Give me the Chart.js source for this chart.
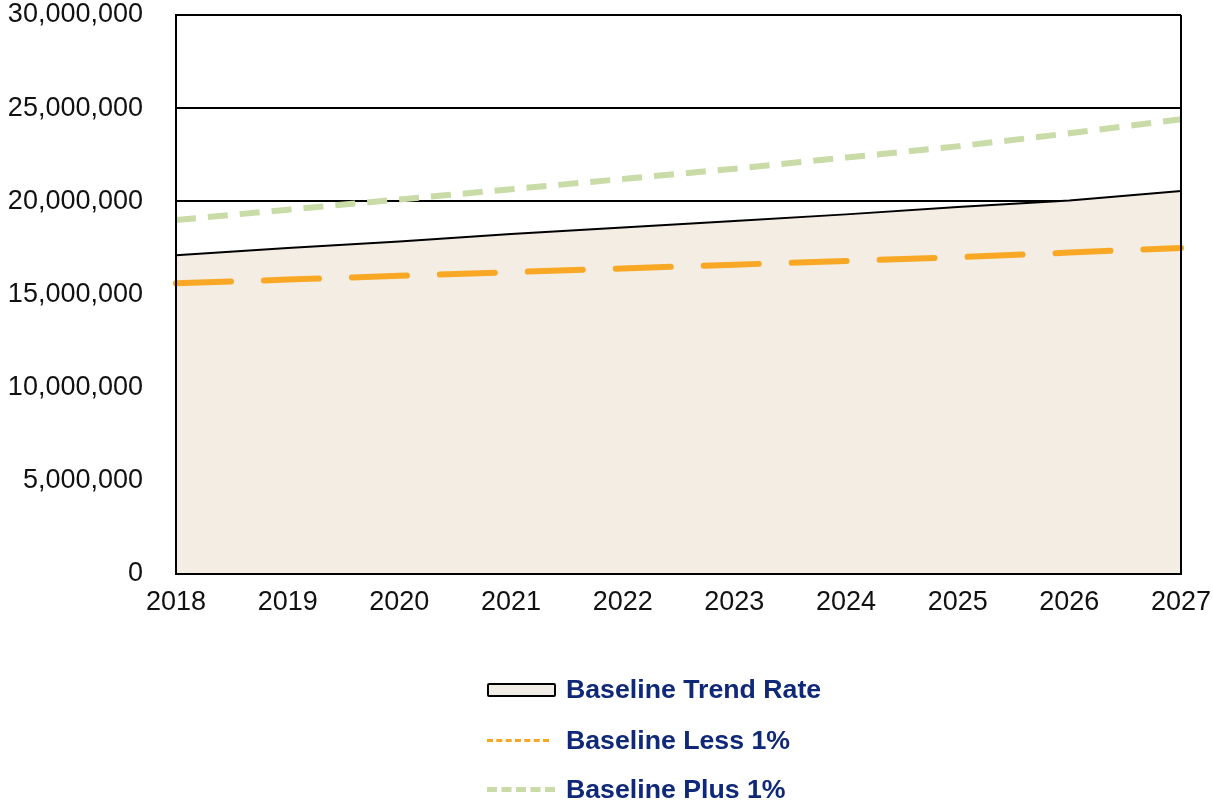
<!DOCTYPE html>
<html>
<head>
<meta charset="utf-8">
<script src="https://cdn.jsdelivr.net/npm/chart.js@4/dist/chart.umd.min.js"></script>
<style>
  html, body { margin: 0; padding: 0; background: #ffffff; }
  #wrap { position: relative; width: 1213px; height: 801px; }
  #c { position: absolute; left: 0; top: 0; }
  .leg { position: absolute; left: 487px; font-family: "Liberation Sans", Arial, sans-serif;
         font-weight: bold; font-size: 26.7px; color: #0f2877; }
  .row { position: absolute; left: 0; height: 30px; white-space: nowrap; }
  .row span.t { position: absolute; left: 79px; top: 0; line-height: 30px; }
  .mk { position: absolute; left: 0; }
</style>
</head>
<body>
<div id="wrap">
  <canvas id="c" width="1213" height="801"></canvas>
  <div class="leg" id="legend"></div>
</div>
<script>
// ---- data ----
const years = ['2018','2019','2020','2021','2022','2023','2024','2025','2026','2027'];
const trendRate = [17100000, 17500000, 17850000, 18250000, 18600000, 18950000, 19300000, 19700000, 20050000, 20550000];
const lessOne   = [15600000, 15800000, 16000000, 16200000, 16400000, 16600000, 16800000, 17000000, 17250000, 17500000];
const plusOne   = [19000000, 19550000, 20100000, 20650000, 21200000, 21750000, 22350000, 22950000, 23650000, 24400000];
const seriesNames = ['Baseline Trend Rate', 'Baseline Less 1%', 'Baseline Plus 1%'];

const FONT = "'Liberation Sans', Arial, sans-serif";

const framePlugin = {
  id: 'frame',
  afterDatasetsDraw(chart) {
    const {ctx, chartArea: a} = chart;
    ctx.save();
    ctx.strokeStyle = '#000';
    ctx.lineWidth = 2;
    ctx.beginPath();
    ctx.moveTo(a.left, a.top); ctx.lineTo(a.left, a.bottom);
    ctx.lineTo(a.right, a.bottom); ctx.lineTo(a.right, a.top);
    ctx.stroke();
    ctx.restore();
  }
};

new Chart(document.getElementById('c'), {
  type: 'line',
  data: {
    labels: years,
    datasets: [
      { label: seriesNames[1], data: lessOne, borderColor: '#f9a825', borderWidth: 6,
        borderDash: [55, 33], borderCapStyle: 'round', pointRadius: 0, fill: false, order: 1 },
      { label: seriesNames[2], data: plusOne, borderColor: '#c9dba6', borderWidth: 6,
        borderDash: [20, 12], borderCapStyle: 'butt', pointRadius: 0, fill: false, order: 0 },
      { label: seriesNames[0], data: trendRate, borderColor: '#000000', borderWidth: 2,
        backgroundColor: '#f3ede3', fill: 'origin', pointRadius: 0, order: 2 }
    ]
  },
  options: {
    responsive: false,
    animation: false,
    layout: { padding: { left: 0, right: 32, top: 15, bottom: 177 } },
    plugins: { legend: { display: false }, tooltip: { enabled: false } },
    scales: {
      x: {
        offset: false,
        grid: { display: false, drawTicks: false },
        border: { display: true, color: '#000', width: 2 },
        ticks: { color: '#111', font: { family: FONT, size: 27 }, padding: 12, maxRotation: 0, autoSkip: false },
        afterFit(s) { s.height = 50; s.paddingLeft = 0; s.paddingRight = 0; }
      },
      y: {
        min: 0, max: 30000000,
        ticks: { stepSize: 5000000, color: '#111', font: { family: FONT, size: 27 }, padding: 33,
                 callback: v => v.toLocaleString('en-US') },
        grid: { color: '#000', lineWidth: 2, drawTicks: false },
        border: { display: true, color: '#000', width: 2 },
        afterFit(s) { s.width = 176; s.paddingTop = 0; s.paddingBottom = 0; }
      }
    }
  },
  plugins: [framePlugin]
});

// ---- legend (HTML) ----
const legend = document.getElementById('legend');
const rows = [
  { name: seriesNames[0], top: 674, mk: '<div class="mk" style="top:9px;width:65px;height:10px;border:2px solid #000;border-radius:2px;background:#f1ede6"></div>' },
  { name: seriesNames[1], top: 725, mk: '<div class="mk" style="top:14px;width:62px;height:0;border-top:3px dashed #f9a825"></div>' },
  { name: seriesNames[2], top: 774, mk: '<div class="mk" style="top:13px;width:68px;height:0;border-top:5px dashed #c9dba6"></div>' }
];
rows.forEach(r => {
  const d = document.createElement('div');
  d.className = 'row';
  d.style.top = r.top + 'px';
  d.innerHTML = r.mk + '<span class="t">' + r.name + '</span>';
  legend.appendChild(d);
});
</script>
</body>
</html>
